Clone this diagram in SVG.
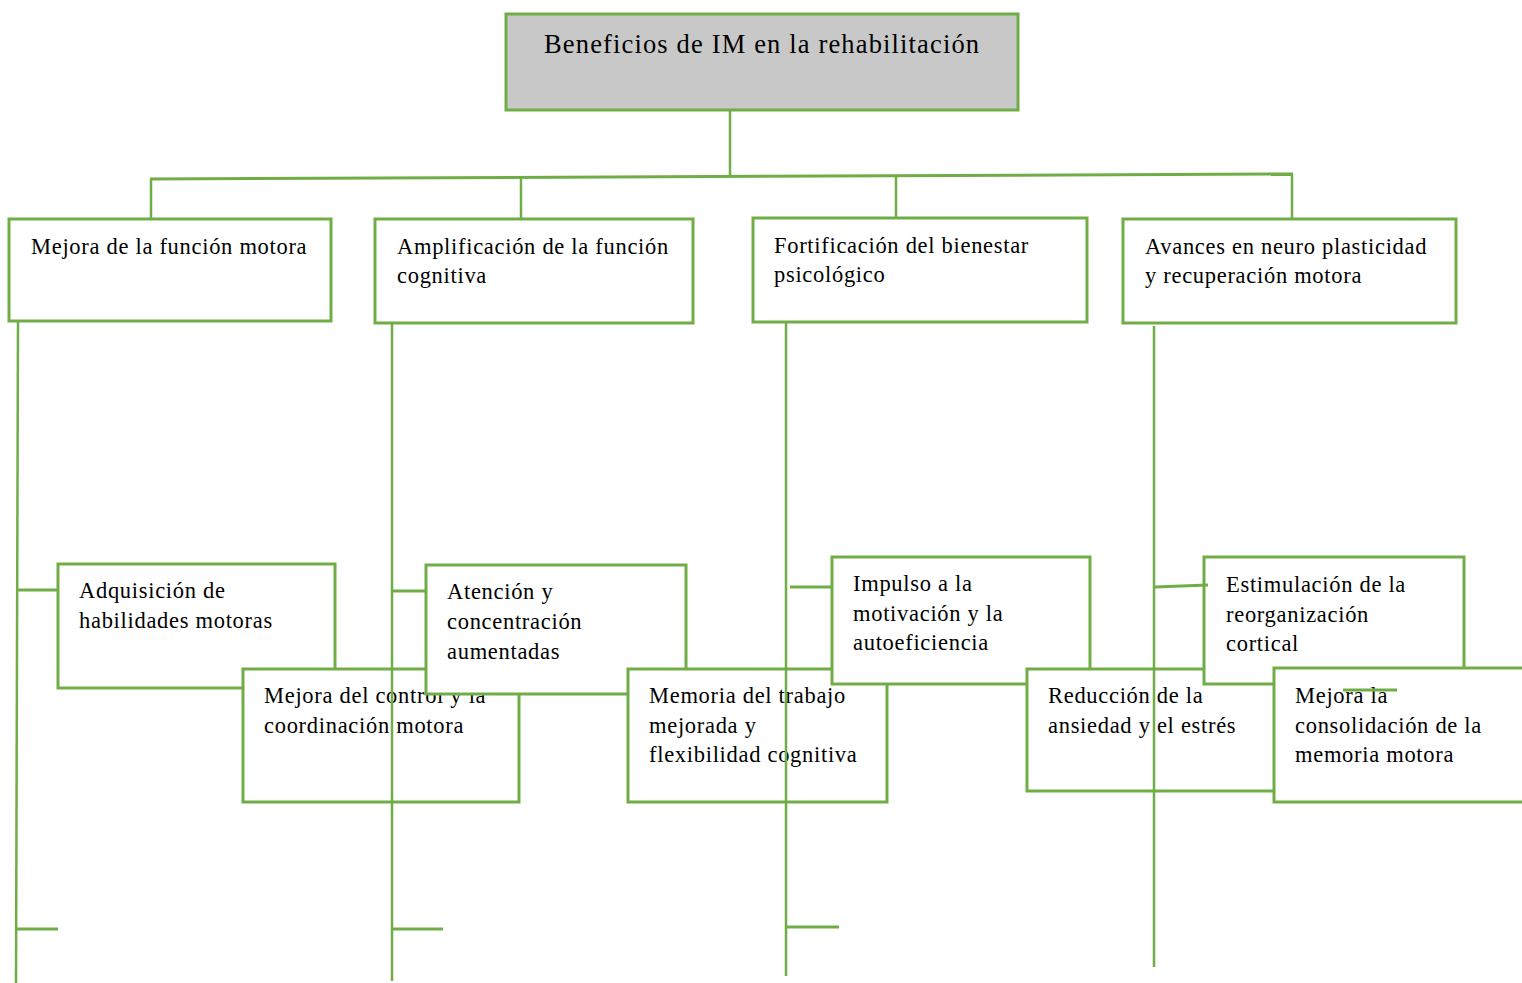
<svg xmlns="http://www.w3.org/2000/svg" width="1522" height="983" viewBox="0 0 1522 983">
<style>
.box{fill:#ffffff;stroke:#70ad47;stroke-width:3}
.title{fill:#c8c8c8;stroke:#70ad47;stroke-width:3}
.t{font-family:"Liberation Serif","Times New Roman",serif;font-size:22.5px;letter-spacing:0.7px;fill:#000}
.tt{font-family:"Liberation Serif","Times New Roman",serif;font-size:26.5px;letter-spacing:1.15px;fill:#000}
.c{stroke:#70ad47;stroke-width:2.5;fill:none}
.s{stroke:#70ad47;stroke-width:3;fill:none}
</style>
<rect width="1522" height="983" fill="#ffffff"/>
<g id="root">
<rect class="title" x="506" y="14" width="512" height="96"/>
<text class="tt" x="544" y="53">Beneficios de IM en la rehabilitación</text>
</g>
<g id="n1">
<rect class="box" x="9" y="219" width="322" height="102"/>
<text class="t" x="31" y="254">Mejora de la función motora</text>
</g>
<g id="n2">
<rect class="box" x="375" y="219" width="318" height="104"/>
<text class="t" x="397" y="254">Amplificación de la función</text>
<text class="t" x="397" y="283">cognitiva</text>
</g>
<g id="n3">
<rect class="box" x="753" y="218" width="334" height="104"/>
<text class="t" x="774" y="253">Fortificación del bienestar</text>
<text class="t" x="774" y="282">psicológico</text>
</g>
<g id="n4">
<rect class="box" x="1123" y="219" width="333" height="104"/>
<text class="t" x="1145" y="254">Avances en neuro plasticidad</text>
<text class="t" x="1145" y="283">y recuperación motora</text>
</g>
<g id="n1a">
<rect class="box" x="58" y="564" width="277" height="124"/>
<text class="t" x="79" y="598">Adquisición de</text>
<text class="t" x="79" y="628">habilidades motoras</text>
</g>
<g id="n1b">
<rect class="box" x="243" y="669" width="276" height="133"/>
<text class="t" x="264" y="703">Mejora del control y la</text>
<text class="t" x="264" y="733">coordinación motora</text>
</g>
<g id="n2a">
<rect class="box" x="426" y="565" width="260" height="129"/>
<text class="t" x="447" y="599">Atención y</text>
<text class="t" x="447" y="629">concentración</text>
<text class="t" x="447" y="659">aumentadas</text>
</g>
<g id="n2b">
<rect class="box" x="628" y="669" width="259" height="133"/>
<text class="t" x="649" y="703">Memoria del trabajo</text>
<text class="t" x="649" y="733">mejorada y</text>
<text class="t" x="649" y="762">flexibilidad cognitiva</text>
</g>
<g id="n3a">
<rect class="box" x="832" y="557" width="258" height="127"/>
<text class="t" x="853" y="591">Impulso a la</text>
<text class="t" x="853" y="621">motivación y la</text>
<text class="t" x="853" y="650">autoeficiencia</text>
</g>
<g id="n3b">
<rect class="box" x="1027" y="669" width="248" height="122"/>
<text class="t" x="1048" y="703">Reducción de la</text>
<text class="t" x="1048" y="733">ansiedad y el estrés</text>
</g>
<g id="n4a">
<rect class="box" x="1204" y="557" width="260" height="127"/>
<text class="t" x="1226" y="592">Estimulación de la</text>
<text class="t" x="1226" y="622">reorganización</text>
<text class="t" x="1226" y="651">cortical</text>
</g>
<g id="n4b">
<rect class="box" x="1274" y="668" width="260" height="134"/>
<text class="t" x="1295" y="703">Mejora la</text>
<text class="t" x="1295" y="733">consolidación de la</text>
<text class="t" x="1295" y="762">memoria motora</text>
</g>
<g id="connectors">
<line class="c" x1="730" y1="110" x2="730" y2="176"/>
<line class="s" x1="150" y1="179" x2="1293" y2="174"/>
<line class="c" x1="151" y1="179" x2="151" y2="219"/>
<line class="c" x1="521" y1="177" x2="521" y2="219"/>
<line class="c" x1="896" y1="176" x2="896" y2="218"/>
<line class="c" x1="1292" y1="174" x2="1292" y2="219"/>
<line class="c" x1="18" y1="321" x2="16" y2="983"/>
<line class="c" x1="392" y1="323" x2="392" y2="981"/>
<line class="c" x1="786" y1="322" x2="786" y2="976"/>
<line class="c" x1="1154" y1="326" x2="1154" y2="967"/>
<line class="s" x1="17" y1="590" x2="58" y2="590"/>
<line class="s" x1="392" y1="591" x2="426" y2="591"/>
<line class="s" x1="790" y1="587" x2="832" y2="587"/>
<line class="s" x1="1155" y1="587" x2="1208" y2="585"/>
<line class="s" x1="17" y1="929" x2="58" y2="929"/>
<line class="s" x1="393" y1="929" x2="443" y2="929"/>
<line class="s" x1="787" y1="927" x2="839" y2="927"/>
<line class="s" x1="1343" y1="690" x2="1397" y2="690"/>
</g>
</svg>
